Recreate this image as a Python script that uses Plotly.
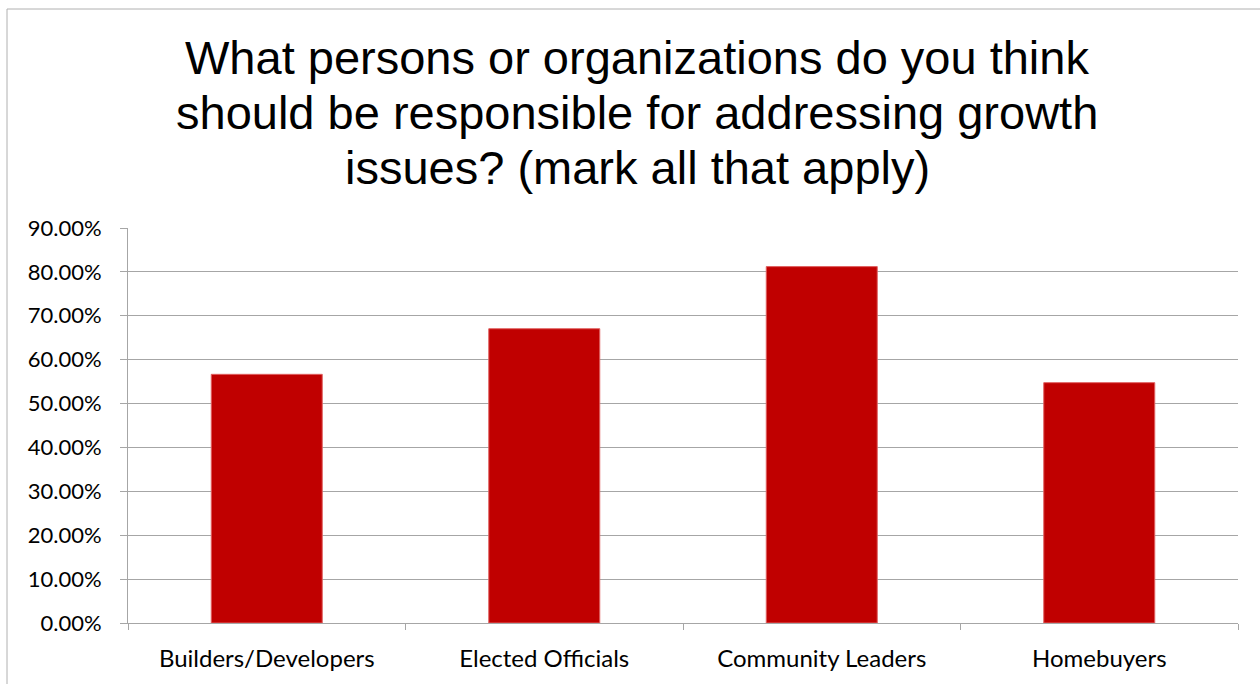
import plotly.graph_objects as go

categories = ["Builders/Developers", "Elected Officials", "Community Leaders", "Homebuyers"]
shares = [0.5666, 0.6705, 0.8120, 0.5476]
y_ticks = [0.0, 0.1, 0.2, 0.3, 0.4, 0.5, 0.6, 0.7, 0.8, 0.9]

title_lines = [
    "What persons or organizations do you think",
    "should be responsible for addressing growth",
    "issues? (mark all that apply)",
]

# plot area geometry in pixels (used to place title lines above it)
PLOT_TOP = 228
PLOT_H = 684 - 228 - 61
title_line_centers = [58, 112.5, 167]

fig = go.Figure(
    go.Bar(
        x=categories,
        y=shares,
        marker=dict(color="#c00000", line=dict(color="#e06060", width=1)),
        hoverinfo="x+y",
    )
)

fig.update_layout(
    width=1260,
    height=684,
    margin=dict(l=128, r=22, t=PLOT_TOP, b=61),
    paper_bgcolor="white",
    plot_bgcolor="white",
    bargap=0.6,
    showlegend=False,
    font=dict(family="Lato, Open Sans, Arial", color="#000000"),
)

for line, cy in zip(title_lines, title_line_centers):
    fig.add_annotation(
        text=line,
        xref="paper", yref="paper",
        x=0.459, xanchor="center",
        y=1 + (PLOT_TOP - cy) / PLOT_H, yanchor="middle",
        showarrow=False,
        font=dict(family="Liberation Sans, Arial", size=47, color="#000000"),
    )

fig.update_yaxes(
    range=[0, 0.9],
    tickvals=y_ticks,
    tickformat=".2%",
    tickfont=dict(size=22),
    showgrid=True,
    gridcolor="#a6a6a6",
    gridwidth=1,
    showline=True,
    linecolor="#a6a6a6",
    linewidth=1,
    ticks="outside",
    ticklen=7,
    tickcolor="#a6a6a6",
    ticklabelstandoff=14,
    zeroline=False,
)

fig.update_xaxes(
    showline=True,
    linecolor="#a6a6a6",
    linewidth=1,
    ticks="outside",
    tickson="boundaries",
    ticklen=6,
    tickcolor="#a6a6a6",
    tickfont=dict(size=24),
    ticklabelstandoff=14,
    showgrid=False,
)

# Outer chart border
fig.add_shape(
    type="rect",
    xref="paper", yref="paper",
    x0=-121 / 1110, x1=1.2,
    y0=-0.5, y1=1 + (PLOT_TOP - 9) / PLOT_H,
    line=dict(color="#b0b0b0", width=1),
    fillcolor="rgba(0,0,0,0)",
    layer="below",
)

fig.write_html("out.html")
